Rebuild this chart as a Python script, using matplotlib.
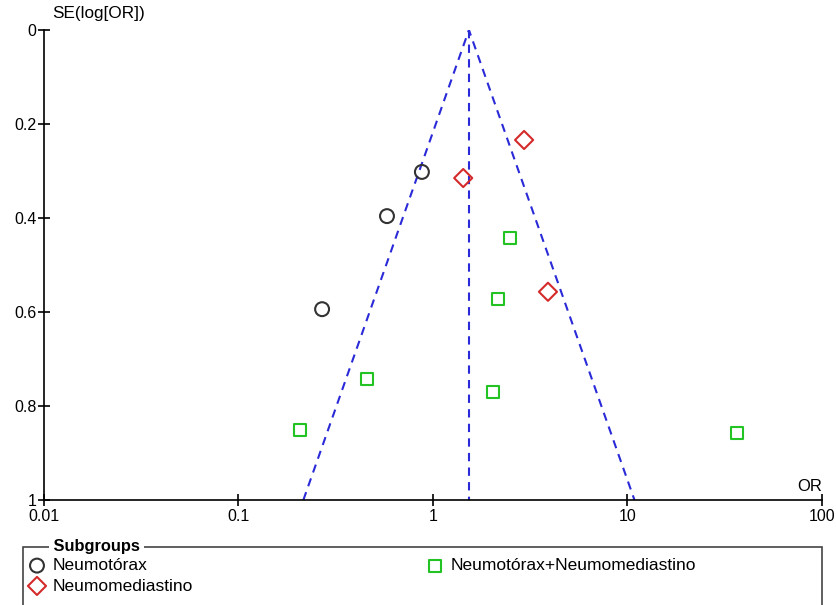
import numpy as np
import matplotlib
matplotlib.use('Agg')
import matplotlib.pyplot as plt
from matplotlib.patches import Rectangle

plt.rcParams['font.family'] = ['Liberation Sans', 'DejaVu Sans']

# odds ratios and standard errors per subgroup
neumotorax_or = [0.877, 0.58, 0.269]
neumotorax_se = [0.302, 0.396, 0.594]
neumomed_or = [2.94, 1.43, 3.90]
neumomed_se = [0.234, 0.315, 0.557]
ambos_or = [2.49, 2.16, 0.458, 2.03, 0.207, 36.6]
ambos_se = [0.443, 0.572, 0.743, 0.770, 0.851, 0.857]
pooled_or = 1.53

x_ticks = [0.01, 0.1, 1, 10, 100]
x_labels = ['0.01', '0.1', '1', '10', '100']
y_ticks = [0, 0.2, 0.4, 0.6, 0.8, 1]
y_labels = ['0', '0.2', '0.4', '0.6', '0.8', '1']

fig = plt.figure(figsize=(8.37, 6.05), dpi=100)
ax = fig.add_axes([44 / 837, 1 - 500 / 605, (822 - 44) / 837, 470 / 605])

# funnel
se_max = 1.0
lo = pooled_or * np.exp(-1.96 * se_max)
hi = pooled_or * np.exp(1.96 * se_max)
ax.plot([lo, pooled_or, hi], [se_max, 0, se_max], color='#2a2ad8', ls=(0, (4, 3)), lw=1.5)
ax.plot([pooled_or, pooled_or], [0, se_max], color='#2a2ad8', ls=(0, (4, 3)), lw=1.5)

h1 = ax.scatter(neumotorax_or, neumotorax_se, marker='o', s=100, facecolors='none',
                edgecolors='#333333', linewidths=1.5, label='Neumotórax', zorder=3)
h2 = ax.scatter(neumomed_or, neumomed_se, marker='D', s=85, facecolors='none',
                edgecolors='#d42a2a', linewidths=1.5, label='Neumomediastino', zorder=3)
h3 = ax.scatter(ambos_or, ambos_se, marker='s', s=75, facecolors='none',
                edgecolors='#22c322', linewidths=1.5, label='Neumotórax+Neumomediastino', zorder=3)

ax.set_xscale('log')
ax.set_xlim(0.01, 100)
ax.set_ylim(1, 0)
ax.set_xticks(x_ticks)
ax.set_xticklabels(x_labels)
ax.set_yticks(y_ticks)
ax.set_yticklabels(y_labels)
ax.minorticks_off()
ax.tick_params(direction='inout', length=9, width=1.2, labelsize=11.5, pad=1)
ax.tick_params(axis='x', pad=2)
for side in ['top', 'right']:
    ax.spines[side].set_visible(False)
for side in ['left', 'bottom']:
    ax.spines[side].set_linewidth(1.2)

ax.text(0.01, 1.02, 'SE(log[OR])', transform=ax.transAxes, fontsize=12.3, ha='left', va='bottom')
ax.text(1.0, 0.012, 'OR', transform=ax.transAxes, fontsize=12, ha='right', va='bottom')

# legend box
fig.patches.append(Rectangle((23 / 837, -0.05), (822 - 23) / 837, 0.05 + 1 - 547 / 605,
                             transform=fig.transFigure, fill=False, edgecolor='#444444', lw=1.2))
fig.text(49 / 837, 1 - 547 / 605, ' Subgroups ', fontsize=11.8, fontweight='bold',
         ha='left', va='center', bbox=dict(facecolor='white', edgecolor='none', pad=0))
fig.legend(handles=[h1, h2, h3], ncol=2, loc='upper left', bbox_to_anchor=(28.3 / 837, 1 - 558 / 605),
           frameon=False, fontsize=12.5, handletextpad=0.42, columnspacing=13.4,
           labelspacing=0.3, borderaxespad=0, borderpad=0, handlelength=1.0)

fig.savefig('out.png', dpi=100)
